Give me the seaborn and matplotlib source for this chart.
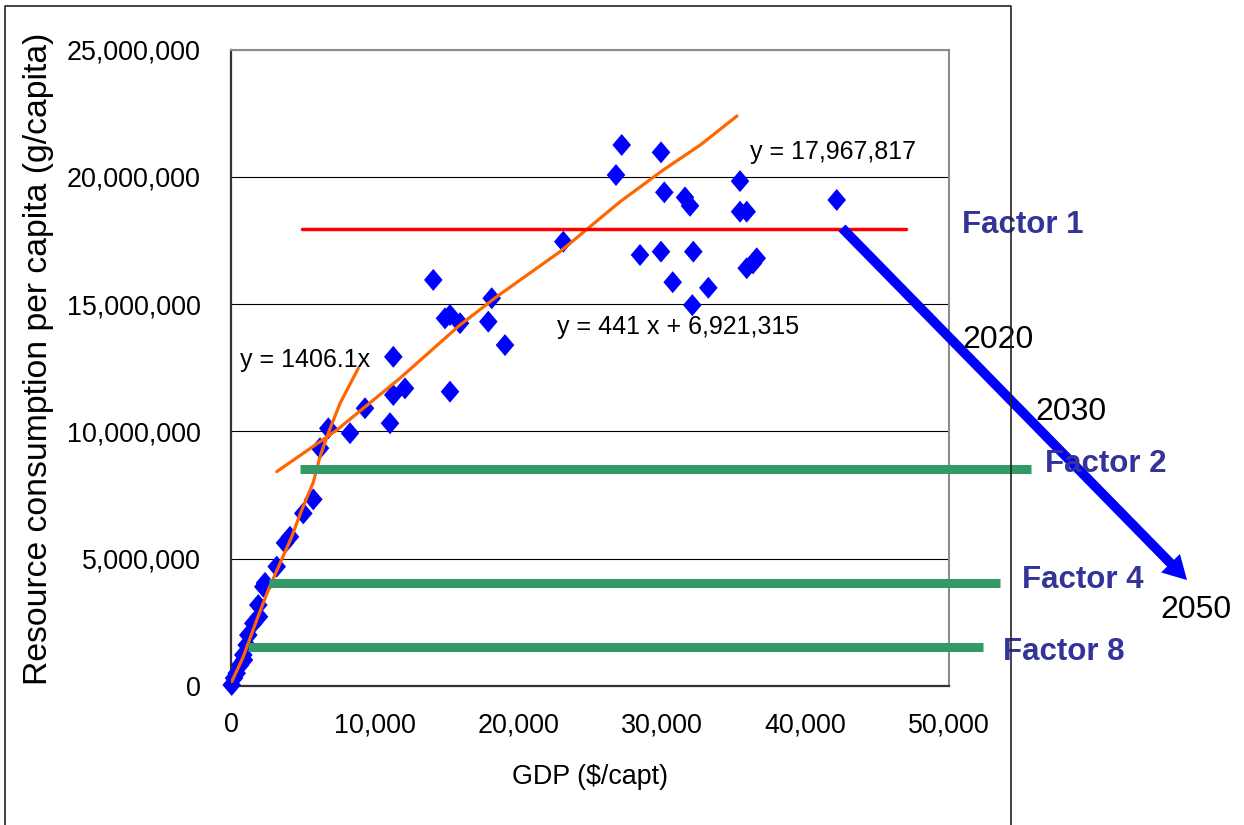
import matplotlib
matplotlib.use("Agg")
import matplotlib.pyplot as plt
import seaborn as sns
import numpy as np
import pandas as pd
from matplotlib import font_manager
from matplotlib.lines import Line2D
from matplotlib.ticker import FuncFormatter

# ---------------- data ----------------
gdp = [49, 209, 397, 627, 857, 905, 1093, 1205, 1553, 1901, 1950, 2249, 2368,
       3183, 3761, 4109, 5035, 5731, 6198, 6776, 8287, 9332, 11073, 11303,
       12117, 11303, 14088, 14903, 15251, 15948, 15251, 18155, 17918, 19081,
       23141, 26811, 27208, 29945, 30175, 31617, 31965, 35447, 35447, 35913,
       42181, 28483, 29945, 32195, 30760, 33240, 32125, 35913, 36609, 36350]
resource_million = [0.04, 0.31, 0.50, 0.82, 1.22, 1.02, 1.61, 2.00, 2.46, 3.18,
                    2.72, 3.90, 4.05, 4.69, 5.62, 5.86, 6.78, 7.33, 9.34, 10.12,
                    9.93, 10.91, 10.32, 11.43, 11.69, 12.93, 15.95, 14.44, 14.57,
                    14.25, 11.56, 15.23, 14.31, 13.39, 17.45, 20.07, 21.25, 20.96,
                    19.39, 19.19, 18.86, 19.83, 18.63, 18.63, 19.09, 16.93, 17.06,
                    17.06, 15.86, 15.64, 14.96, 16.41, 16.80, 16.60]

# trend line "y = 1406.1x" as drawn
trend_prop_x = [49, 857, 1790, 2598, 3412, 4227, 4923, 5731, 6198, 6776, 7591, 8865]
trend_prop_million = [0.17, 1.15, 2.59, 3.77, 4.82, 5.86, 6.91, 8.00, 9.01, 9.93, 11.10, 12.48]

# trend line "y = 441 x + 6,921,315" as drawn
trend_lin_x = [3183, 7361, 11769, 15948, 18503, 22911, 27090, 30106, 32683, 35238]
trend_lin_million = [8.42, 10.05, 12.09, 14.18, 15.29, 17.06, 19.02, 20.27, 21.25, 22.39]

plateau_value = 17967817
plateau_x = [4944, 47007]

factor_names = ["Factor 2", "Factor 4", "Factor 8"]
factor_million = [8.52, 4.03, 1.55]
factor_x_start = [4805, 2646, 1161]
factor_x_end = [55690, 53553, 52369]

arrow_start = (42550, 17.99e6)
arrow_end = (66576, 4.16e6)

year_labels = ["2020", "2030", "2050"]
equation_labels = ["y = 17,967,817", "y = 441 x + 6,921,315", "y = 1406.1x"]

x_ticks = [0, 10000, 20000, 30000, 40000, 50000]
y_ticks = [0, 5000000, 10000000, 15000000, 20000000, 25000000]

# ---------------- style ----------------
sns.set_style("white")


def has_font(name):
    try:
        font_manager.findfont(font_manager.FontProperties(family=name),
                              fallback_to_default=False)
        return True
    except Exception:
        return False


if has_font("Liberation Sans Narrow"):
    NARROW, NS = "Liberation Sans Narrow", 1.0
else:
    NARROW, NS = "Liberation Sans", 0.88
plt.rcParams["font.family"] = ["Liberation Sans", "DejaVu Sans"]

W, H = 1244, 825
fig = plt.figure(figsize=(W / 100, H / 100), dpi=100)
L, R, T, B = 231, 949, 49.5, 686
ax = fig.add_axes([L / W, 1 - B / H, (R - L) / W, (B - T) / H])

df = pd.DataFrame({"gdp": gdp, "res": np.array(resource_million) * 1e6})
tp = pd.DataFrame({"x": trend_prop_x, "y": np.array(trend_prop_million) * 1e6})
tl = pd.DataFrame({"x": trend_lin_x, "y": np.array(trend_lin_million) * 1e6})

diamond = [(0, 1.18), (1, 0), (0, -1.18), (-1, 0), (0, 1.18)]
sns.scatterplot(data=df, x="gdp", y="res", ax=ax, marker=diamond, s=250,
                color="#0000FF", edgecolor="none", linewidth=0, zorder=3,
                clip_on=False)
sns.lineplot(data=tp, x="x", y="y", ax=ax, sort=False, estimator=None,
             color="#FF6600", lw=2.3, zorder=4)
sns.lineplot(data=tl, x="x", y="y", ax=ax, sort=False, estimator=None,
             color="#FF6600", lw=2.3, zorder=4)
ax.plot(plateau_x, [plateau_value, plateau_value], color="#FF0000", lw=2.5,
        zorder=5, clip_on=False)
for lvl, xs, xe in zip(factor_million, factor_x_start, factor_x_end):
    ax.plot([xs, xe], [lvl * 1e6, lvl * 1e6], color="#339966", lw=6.5,
            solid_capstyle="butt", zorder=6, clip_on=False)

ax.annotate("", xy=arrow_end, xytext=arrow_start,
            arrowprops=dict(width=7, headwidth=19, headlength=17, shrink=0,
                            color="#0000FF", lw=0),
            annotation_clip=False, zorder=7)

ax.set_xlim(0, 50000)
ax.set_ylim(0, 25000000)
ax.set_xticks(x_ticks)
ax.set_yticks(y_ticks)
fmt = FuncFormatter(lambda v, p: f"{int(round(v)):,}")
ax.xaxis.set_major_formatter(fmt)
ax.yaxis.set_major_formatter(fmt)
ax.tick_params(axis="both", direction="in", length=6, width=1.2, color="#333333")
ax.tick_params(axis="x", pad=19)
ax.tick_params(axis="y", pad=22)
for lab in ax.get_xticklabels() + ax.get_yticklabels():
    lab.set_fontfamily(NARROW)
    lab.set_fontsize(22 * NS)
    lab.set_color("black")

ax.yaxis.grid(True, color="black", lw=0.8)
ax.xaxis.grid(False)
ax.set_axisbelow(True)
for s in ["left", "bottom"]:
    ax.spines[s].set_color("#333333")
    ax.spines[s].set_linewidth(1.6)
for s in ["top", "right"]:
    ax.spines[s].set_color("#8c8c8c")
    ax.spines[s].set_linewidth(1.5)

ax.set_xlabel("GDP ($/capt)", fontfamily=NARROW, fontsize=22 * NS, color="black")
ax.xaxis.set_label_coords(0.5, -0.122)
ax.set_ylabel("Resource consumption per capita (g/capita)", fontsize=24.3,
              color="black")
ax.yaxis.set_label_coords(-0.246, 0.514)


def px2data(px, py):
    return ((px - L) / (R - L) * 50000, (B - py) / (B - T) * 25000000)


# equation labels
for txt, (px, py) in zip(equation_labels, [(750, 152), (557, 327), (240, 360)]):
    ax.text(*px2data(px, py), txt, fontfamily=NARROW, fontsize=20.5 * NS,
            ha="left", va="center", color="black", zorder=8, clip_on=False)

# factor labels
for txt, (px, py) in zip(["Factor 1"] + factor_names,
                         [(962, 225), (1045, 464), (1022, 580), (1003, 652)]):
    ax.text(*px2data(px, py), txt, fontsize=22.5, fontweight="bold",
            color="#333399", ha="left", va="center", zorder=8, clip_on=False)

# year labels
for txt, (px, py) in zip(year_labels, [(962, 340), (1035, 412), (1160, 610)]):
    ax.text(*px2data(px, py), txt, fontsize=23, color="black",
            ha="left", va="center", zorder=9, clip_on=False)

# outer slide frame
fx = [5 / W, 5 / W, 1011 / W, 1011 / W]
fy = [0, 1 - 6 / H, 1 - 6 / H, 0]
fig.add_artist(Line2D(fx, fy, transform=fig.transFigure, color="#222222", lw=1.2))

fig.savefig("out.png", dpi=100)
